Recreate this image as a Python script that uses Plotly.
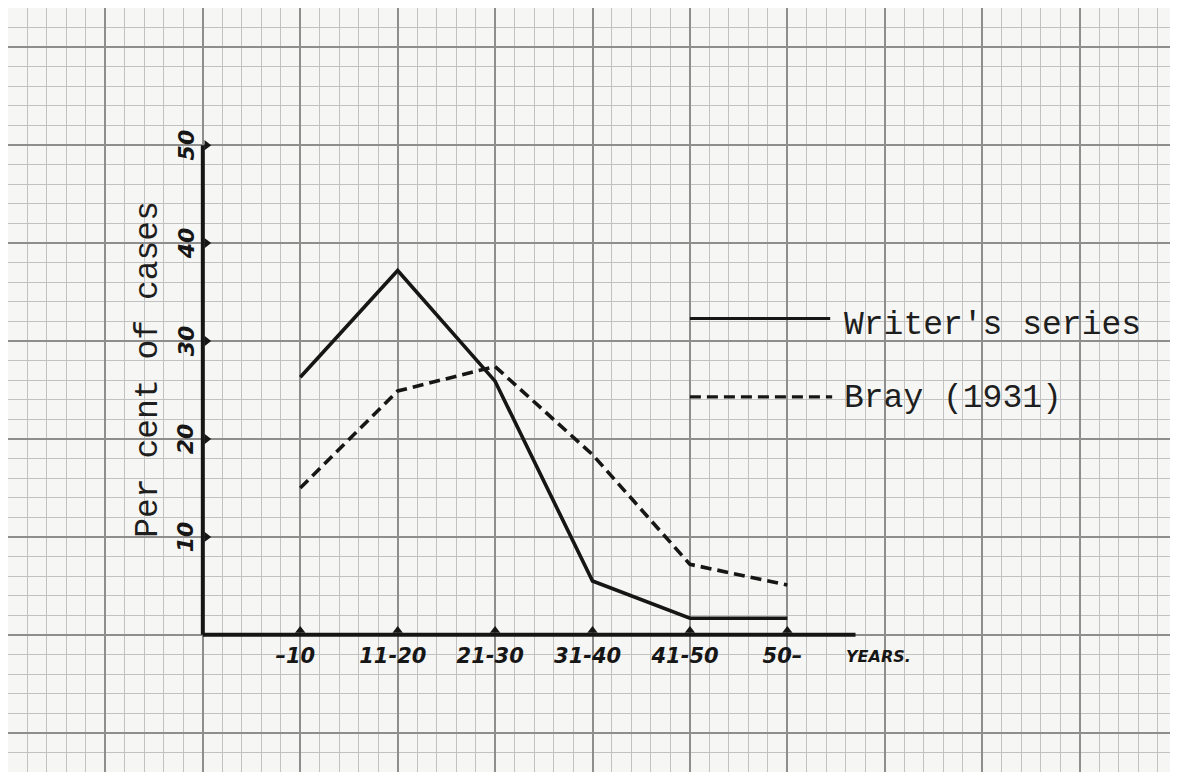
import plotly.graph_objects as go

categories = ["–10", "11-20", "21-30", "31-40", "41-50", "50–"]
writers_series = [26.3, 37.2, 25.9, 5.5, 1.7, 1.7]
bray_1931 = [15.0, 24.9, 27.4, 18.4, 7.2, 5.1]
y_ticks = [10, 20, 30, 40, 50]

xi = list(range(len(categories)))
INK = "#161616"
TYPE_INK = "#1e1e1e"
TYPE_FONT = "Liberation Mono"
HAND_FONT = "DejaVu Sans"
X_RANGE = [-3, 9]
Y_RANGE = [-14, 64]

fig = go.Figure()

# data lines (on the overlay axes so they sit above both grids)
fig.add_trace(go.Scatter(x=xi, y=writers_series, mode="lines", xaxis="x2", yaxis="y2",
                         line=dict(color=INK, width=3.6), name="Writer's series",
                         showlegend=False, hoverinfo="skip"))
fig.add_trace(go.Scatter(x=xi, y=bray_1931, mode="lines", xaxis="x2", yaxis="y2",
                         line=dict(color=INK, width=3.6, dash="11px,6px"), name="Bray (1931)",
                         showlegend=False, hoverinfo="skip"))

# tick bumps
fig.add_trace(go.Scatter(x=xi, y=[0.45] * len(xi), mode="markers", xaxis="x2", yaxis="y2",
                         marker=dict(symbol="triangle-up", size=9, color=INK),
                         showlegend=False, hoverinfo="skip"))
fig.add_trace(go.Scatter(x=[-0.96] * len(y_ticks), y=y_ticks, mode="markers",
                         xaxis="x2", yaxis="y2",
                         marker=dict(symbol="triangle-right", size=9, color=INK),
                         showlegend=False, hoverinfo="skip"))

# x tick labels (handwritten style)
fig.add_trace(go.Scatter(x=[i - 0.05 for i in xi], y=[-2.3] * len(xi), mode="text",
                         xaxis="x2", yaxis="y2",
                         text=["<b><i>%s</i></b>" % c for c in categories],
                         textfont=dict(family=HAND_FONT, size=21, color=INK),
                         showlegend=False, hoverinfo="skip"))
# placeholder on base axes so they render
fig.add_trace(go.Scatter(x=[0], y=[0], mode="markers", marker=dict(size=1, opacity=0),
                         showlegend=False, hoverinfo="skip"))

# axis lines
fig.add_shape(type="line", xref="x2", yref="y2", x0=-1, x1=5.7, y0=0, y1=0,
              line=dict(color=INK, width=4))
fig.add_shape(type="line", xref="x2", yref="y2", x0=-1, x1=-1, y0=0, y1=50,
              line=dict(color=INK, width=4))

fig.add_annotation(xref="x2", yref="y2", x=5.58, y=-2.2, text="<b><i>YEARS.</i></b>",
                   showarrow=False, xanchor="left",
                   font=dict(family=HAND_FONT, size=16, color=INK))

# y tick labels rotated
for v in y_ticks:
    fig.add_annotation(xref="x2", yref="y2", x=-1.17, y=v, text="<b><i>%d</i></b>" % v,
                       showarrow=False, textangle=-90,
                       font=dict(family=HAND_FONT, size=22, color=INK))

# y title
fig.add_annotation(xref="x2", yref="y2", x=-1.56, y=27.1, text="Per cent of cases",
                   showarrow=False, textangle=-90,
                   font=dict(family=TYPE_FONT, size=33, color=TYPE_INK))

# legend
fig.add_shape(type="line", xref="x2", yref="y2", x0=4.0, x1=5.44, y0=32.3, y1=32.3,
              line=dict(color=INK, width=3.2))
fig.add_shape(type="line", xref="x2", yref="y2", x0=4.0, x1=5.46, y0=24.3, y1=24.3,
              line=dict(color=INK, width=3.2, dash="11px,6px"))
fig.add_annotation(xref="x2", yref="y2", x=5.56, y=31.6, text="Writer's series",
                   showarrow=False, xanchor="left",
                   font=dict(family=TYPE_FONT, size=33, color=TYPE_INK))
fig.add_annotation(xref="x2", yref="y2", x=5.56, y=24.1, text="Bray (1931)",
                   showarrow=False, xanchor="left",
                   font=dict(family=TYPE_FONT, size=33, color=TYPE_INK))

common = dict(showticklabels=False, zeroline=False, ticks="", showline=False)
fig.update_layout(
    width=1178, height=775,
    margin=dict(l=0, r=9, t=0, b=11),
    paper_bgcolor="white",
    plot_bgcolor="#f6f6f4",
    showlegend=False,
    xaxis=dict(range=X_RANGE, tick0=0, dtick=0.2, showgrid=True, gridcolor="#c2c2c2",
               gridwidth=1.1, **common),
    yaxis=dict(range=Y_RANGE, tick0=0, dtick=2, showgrid=True, gridcolor="#c2c2c2",
               gridwidth=1.1, **common),
    xaxis2=dict(range=X_RANGE, tick0=0, dtick=1, showgrid=True, gridcolor="#8e8e8e",
                gridwidth=1.8, overlaying="x", side="bottom", **common),
    yaxis2=dict(range=Y_RANGE, tick0=0, dtick=10, showgrid=True, gridcolor="#8e8e8e",
                gridwidth=1.8, overlaying="y", side="left", **common),
)

fig.write_html("out.html")
